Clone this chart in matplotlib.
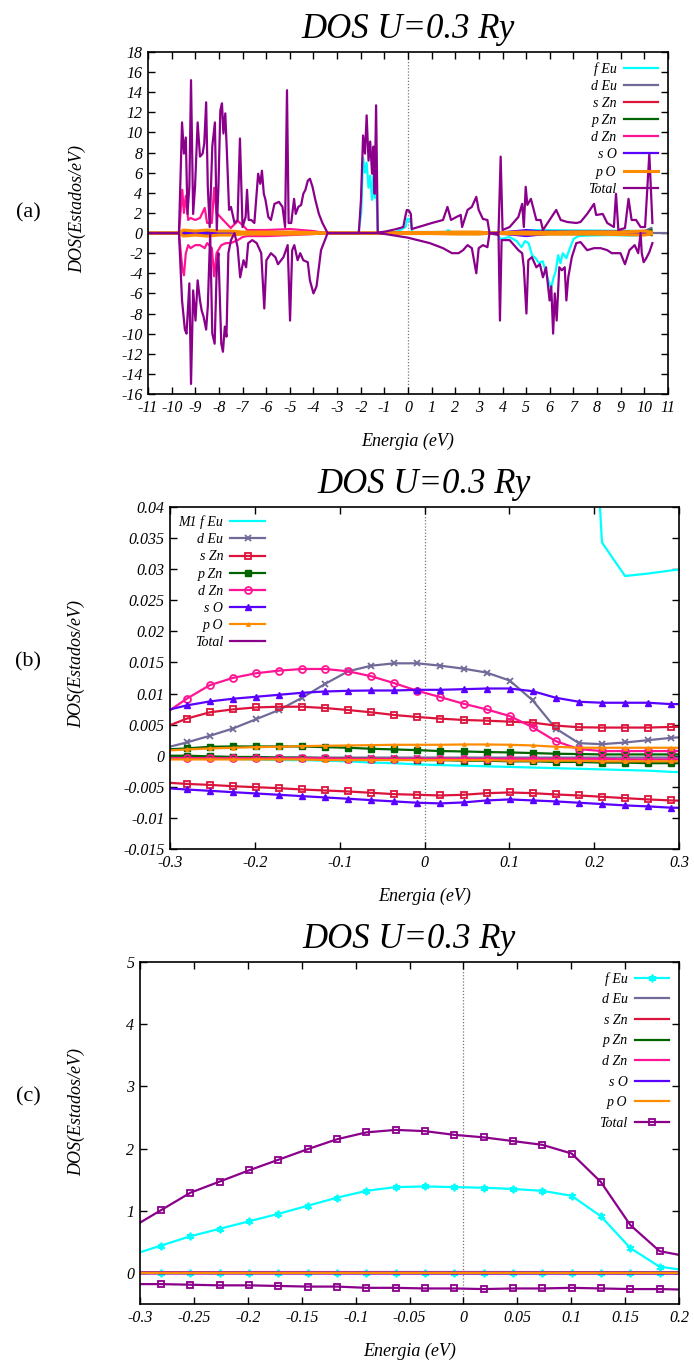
import matplotlib
matplotlib.use('Agg')
import matplotlib.pyplot as plt
from matplotlib.ticker import FuncFormatter, MultipleLocator

plt.rcParams['font.family'] = ['Liberation Serif', 'DejaVu Serif']
plt.rcParams['font.style'] = 'italic'
plt.rcParams['axes.unicode_minus'] = False

# ---------------- panel (a): full DOS, spin up / spin down ----------------
E_tot_up = [-11.0, -9.69, -9.56, -9.48, -9.40, -9.33, -9.25, -9.18, -9.09, -9.01,
            -8.90, -8.80, -8.69, -8.62, -8.54, -8.47, -8.39, -8.28, -8.17, -8.09,
            -8.02, -7.94, -7.87, -7.81, -7.73, -7.66, -7.57, -7.49, -7.34, -7.21,
            -7.11, -7.00, -6.87, -6.81, -6.74, -6.63, -6.50, -6.34, -6.25, -6.18,
            -6.10, -6.03, -5.91, -5.80, -5.65, -5.46, -5.31, -5.20, -5.12, -5.05,
            -4.94, -4.82, -4.75, -4.64, -4.52, -4.43, -4.34, -4.24, -4.15, -4.04,
            -3.92, -3.77, -3.62, -3.40, -2.08, -1.99, -1.90, -1.82, -1.75, -1.67,
            -1.60, -1.52, -1.46, -1.41, -1.35, -1.28, -0.96, -0.49, -0.20, -0.10,
            -0.05, 0.05, 0.12, 0.16, 1.01, 1.48, 1.67, 1.82, 2.05, 2.23,
            2.29, 2.52, 2.70, 2.89, 2.99, 3.17, 3.36, 3.45, 3.83, 3.92,
            4.00, 4.30, 4.67, 4.83, 4.90, 4.98, 5.05, 5.20, 5.43, 5.61,
            5.71, 5.99, 6.27, 6.46, 6.74, 7.12, 7.30, 7.58, 7.87, 7.96,
            8.24, 8.43, 8.71, 8.80, 8.90, 9.18, 9.33, 9.46, 9.65, 9.84,
            10.03, 10.21, 10.34]
tot_up_a = [0.0, 0.0, 11.0, 7.9, 9.5, 1.9, 4.6, 15.2, 1.9, 4.6,
            11.0, 7.6, 7.9, 8.9, 13.0, 4.6, 0.6, 8.6, 11.0, 0.3,
            4.6, 12.2, 12.9, 9.9, 11.9, 7.9, 2.3, 2.6, 1.0, 1.3,
            9.4, 0.6, 1.6, 4.3, 1.3, 1.3, 1.0, 5.9, 4.9, 6.2,
            3.9, 3.3, 1.6, 1.3, 2.9, 3.1, 2.6, 0.6, 14.2, 1.0,
            1.0, 3.4, 1.9, 2.6, 2.8, 3.9, 4.3, 5.2, 5.4, 4.6,
            3.3, 1.9, 1.0, 0.0, 0.0, 3.3, 9.7, 7.9, 11.7, 7.2,
            9.1, 5.9, 8.6, 3.9, 12.7, 0.05, 0.15, 0.4, 0.6, 1.8,
            2.3, 2.2, 1.9, 0.4, 1.0, 1.3, 2.6, 1.3, 1.6, 1.8,
            0.6, 2.3, 2.6, 3.6, 2.3, 1.4, 1.3, 0.0, 0.0, 7.6,
            0.3, 0.6, 1.6, 2.9, 0.6, 4.6, 2.8, 3.4, 1.3, 1.3,
            0.3, 1.3, 2.3, 1.3, 1.1, 1.0, 1.1, 1.9, 2.9, 1.8,
            1.9, 1.0, 0.6, 3.9, 0.3, 0.5, 3.4, 1.3, 1.3, 0.6,
            0.6, 7.9, 1.0]

E_tot_dn = [-11.0, -9.69, -9.56, -9.44, -9.37, -9.25, -9.18, -9.09, -8.99, -8.90,
            -8.80, -8.73, -8.65, -8.54, -8.47, -8.37, -8.28, -8.18, -8.09, -8.02,
            -7.90, -7.83, -7.75, -7.68, -7.60, -7.49, -7.34, -7.21, -7.10, -6.96,
            -6.85, -6.76, -6.59, -6.40, -6.21, -6.08, -5.99, -5.80, -5.61, -5.50,
            -5.27, -5.09, -4.99, -4.90, -4.81, -4.67, -4.56, -4.43, -4.24, -4.15,
            -4.00, -3.87, -3.68, -3.40, -1.28, -0.96, -0.02, 0.92, 1.48, 1.86,
            2.14, 2.33, 2.52, 2.70, 2.89, 2.99, 3.17, 3.36, 3.45, 3.83,
            3.89, 3.96, 4.30, 4.67, 4.83, 4.90, 5.01, 5.09, 5.24, 5.43,
            5.58, 5.71, 5.84, 5.99, 6.06, 6.14, 6.21, 6.29, 6.40, 6.51,
            6.63, 6.70, 6.78, 6.93, 7.12, 7.30, 7.58, 7.87, 8.15, 8.43,
            8.62, 8.80, 8.99, 9.18, 9.37, 9.59, 9.74, 9.84, 9.89, 9.97,
            10.08, 10.21, 10.34]
tot_dn_a = [0.0, 0.0, -6.7, -9.6, -10.0, -5.0, -15.0, -5.7, -8.7, -4.7,
            -6.7, -7.7, -8.3, -9.6, -7.3, 0.0, -10.0, -11.0, -3.4, -2.0,
            -11.0, -11.8, -9.3, -10.3, -2.0, -0.7, 0.0, -1.4, -4.4, -2.7,
            -3.4, -1.0, -0.7, -1.0, -2.0, -7.5, -2.7, -2.0, -2.4, -3.1,
            -2.4, -1.2, -8.7, -1.7, -1.2, -2.7, -2.0, -2.7, -2.9, -4.7,
            -6.0, -5.3, -1.7, 0.0, 0.0, -0.1, -0.45, -1.0, -1.5, -2.0,
            -2.0, -1.7, -1.2, -1.5, -4.0, -1.5, -1.2, -1.4, 0.0, -0.2,
            -8.7, -0.7, -0.7, -1.7, -2.0, -3.4, -8.0, -2.7, -2.4, -3.4,
            -3.1, -4.4, -3.4, -6.7, -5.3, -10.0, -6.0, -8.7, -3.4, -3.7,
            -3.4, -6.7, -4.4, -2.4, -1.0, -0.9, -1.7, -1.5, -1.5, -1.7,
            -2.0, -2.0, -2.0, -3.1, -1.7, -1.2, -2.0, 0.0, -2.0, -2.9,
            -2.5, -1.9, -1.0]

E_dzn_a = [-11.0, -9.69, -9.55, -9.48, -9.40, -9.30, -9.20, -9.00, -8.80, -8.60,
           -8.50, -8.30, -8.20, -8.10, -7.90, -7.70, -7.50, -7.20, -7.00, -6.80,
           -6.00, -5.00, -4.00, -3.50, 10.3]
dzn_up_a = [0.0, 0.0, 4.3, 2.0, 3.7, 1.3, 1.5, 1.3, 1.5, 2.5,
            1.0, 1.0, 4.5, 2.0, 1.5, 1.0, 0.5, 1.2, 0.8, 0.3,
            0.3, 0.4, 0.2, 0.0, 0.0]
dzn_dn_a = [0.0, 0.0, -3.5, -4.2, -2.0, -1.2, -1.5, -1.2, -1.2, -1.5,
            -1.0, -1.5, -4.3, -2.0, -1.2, -1.0, -1.0, -0.7, -0.4, -0.3,
            -0.3, -0.2, -0.1, 0.0, 0.0]

E_feu_up_a = [-11.0, -2.10, -1.98, -1.90, -1.82, -1.75, -1.67, -1.60, -1.52, -1.46,
              -1.40, -1.35, -1.28, -0.50, -0.10, -0.03, 0.05, 0.12, 0.17, 1.60,
              1.70, 1.80, 4.90, 5.00, 10.0, 10.3]
feu_up_a = [0.0, 0.0, 2.0, 7.5, 6.0, 7.0, 4.5, 5.7, 3.3, 6.0,
            3.5, 5.5, 0.0, 0.1, 0.6, 1.4, 1.4, 1.0, 0.1, 0.1,
            0.3, 0.1, 0.1, 0.3, 0.2, 0.3]
E_feu_dn_a = [-11.0, 3.80, 3.90, 4.30, 4.60, 4.80, 4.95, 5.10, 5.25, 5.40,
              5.55, 5.70, 5.85, 5.95, 6.05, 6.15, 6.25, 6.35, 6.45, 6.55,
              6.70, 6.85, 7.00, 7.20, 7.60, 8.50, 9.50, 10.30]
feu_dn_a = [0.0, -0.1, -0.6, -0.4, -0.8, -1.4, -0.8, -1.0, -2.2, -2.5,
            -3.0, -2.8, -4.0, -4.8, -5.5, -4.5, -3.8, -2.2, -3.0, -2.0,
            -2.5, -1.5, -0.6, -0.3, -0.25, -0.2, -0.25, -0.15]

# small partial contributions (all close to zero)
E_small = [-11.0, -9.7, -9.5, -9.0, -8.5, -8.0, -7.5, -7.0, -6.0, -5.0,
           -4.0, -3.4, -2.0, -1.3, 0.0, 1.0, 2.0, 3.0, 3.5, 4.0,
           5.0, 6.0, 7.0, 8.0, 9.0, 10.0, 10.3]
deu_up_a = [0.0, 0.0, 0.1, 0.1, 0.1, 0.1, 0.1, 0.05, 0.05, 0.05,
            0.0, 0.0, 0.0, 0.0, 0.1, 0.1, 0.1, 0.1, 0.0, 0.1,
            0.2, 0.2, 0.2, 0.2, 0.2, 0.2, 0.5]
deu_dn_a = [0.0, 0.0, -0.1, -0.1, -0.1, -0.1, -0.1, -0.05, -0.05, -0.05,
            0.0, 0.0, 0.0, 0.0, -0.05, -0.05, -0.05, -0.1, 0.0, -0.1,
            -0.2, -0.1, -0.1, -0.1, -0.1, -0.1, -0.2]
szn_up_a = [0.0, 0.0, 0.05, 0.05, 0.05, 0.05, 0.05, 0.02, 0.02, 0.02,
            0.0, 0.0, 0.0, 0.0, 0.02, 0.02, 0.02, 0.02, 0.0, 0.02,
            0.05, 0.05, 0.05, 0.05, 0.05, 0.05, 0.05]
szn_dn_a = [0.0, 0.0, -0.05, -0.05, -0.05, -0.05, -0.05, -0.02, -0.02, -0.02,
            0.0, 0.0, 0.0, 0.0, -0.02, -0.02, -0.02, -0.02, 0.0, -0.02,
            -0.05, -0.05, -0.05, -0.05, -0.05, -0.05, -0.05]
pzn_up_a = [0.0, 0.0, 0.1, 0.1, 0.1, 0.1, 0.1, 0.05, 0.05, 0.05,
            0.0, 0.0, 0.0, 0.0, 0.02, 0.02, 0.05, 0.05, 0.0, 0.05,
            0.1, 0.1, 0.1, 0.1, 0.1, 0.1, 0.3]
pzn_dn_a = [0.0, 0.0, -0.1, -0.1, -0.1, -0.1, -0.1, -0.05, -0.05, -0.05,
            0.0, 0.0, 0.0, 0.0, -0.02, -0.02, -0.05, -0.05, 0.0, -0.05,
            -0.1, -0.1, -0.1, -0.1, -0.1, -0.1, -0.2]
so_up_a = [0.0, 0.0, 0.05, 0.05, 0.05, 0.05, 0.05, 0.02, 0.02, 0.02,
           0.0, 0.0, 0.0, 0.0, 0.02, 0.02, 0.05, 0.05, 0.0, 0.05,
           0.3, 0.05, 0.05, 0.05, 0.05, 0.05, 0.05]
so_dn_a = [0.0, 0.0, -0.05, -0.05, -0.05, -0.05, -0.05, -0.02, -0.02, -0.02,
           0.0, 0.0, 0.0, 0.0, -0.02, -0.02, -0.05, -0.05, 0.0, -0.05,
           -0.3, -0.05, -0.05, -0.05, -0.05, -0.05, -0.05]
po_up_a = [0.0, 0.0, 0.3, 0.2, 0.3, 0.2, 0.2, 0.1, 0.1, 0.1,
           0.05, 0.0, 0.0, 0.0, 0.05, 0.05, 0.1, 0.1, 0.0, 0.05,
           0.1, 0.05, 0.1, 0.1, 0.1, 0.2, 0.1]
po_dn_a = [0.0, 0.0, -0.3, -0.2, -0.3, -0.2, -0.2, -0.1, -0.1, -0.1,
           -0.05, 0.0, 0.0, 0.0, -0.05, -0.05, -0.1, -0.1, 0.0, -0.05,
           -0.1, -0.1, -0.1, -0.1, -0.15, -0.2, -0.1]
E_zero = [-11.0, 11.0]
zero_line = [0.0, 0.0]

# ---------------- panels (b) and (c): zoom around E_F ----------------
E_fine = [-0.3076, -0.2804, -0.2532, -0.2260, -0.1988, -0.1716, -0.1444, -0.1172,
          -0.0900, -0.0628, -0.0356, -0.0084, 0.0188, 0.0460, 0.0732, 0.1004,
          0.1276, 0.1548, 0.1820, 0.2092, 0.2364, 0.2636, 0.2908, 0.3180]
feu_up = [0.29, 0.44, 0.59, 0.71, 0.83, 0.95, 1.08, 1.21,
          1.32, 1.38, 1.39, 1.38, 1.37, 1.35, 1.32, 1.24,
          0.91, 0.40, 0.10, 0.0343, 0.0289, 0.0293, 0.0298, 0.0302]
feu_dn = [-0.0003, -0.0004, -0.0005, -0.0005, -0.0006, -0.0007, -0.0007, -0.0008,
          -0.0009, -0.0011, -0.0012, -0.0014, -0.0015, -0.0016, -0.0017, -0.0018,
          -0.0019, -0.0020, -0.0021, -0.0022, -0.0023, -0.0024, -0.0026, -0.0027]
deu_up = [0.0012, 0.00213, 0.0032, 0.00437, 0.00586, 0.00735, 0.00932, 0.01155,
          0.01358, 0.01448, 0.01486, 0.01486, 0.01448, 0.0140, 0.01337, 0.01209,
          0.00889, 0.00437, 0.00202, 0.00186, 0.00213, 0.0025, 0.00288, 0.0031]
deu_dn = [-0.0002, -0.0002, -0.0002, -0.0002, -0.0003, -0.0003, -0.0003, -0.0003,
          -0.0003, -0.0003, -0.0003, -0.0003, -0.0003, -0.0003, -0.0003, -0.0003,
          -0.0003, -0.0003, -0.0003, -0.0003, -0.0003, -0.0003, -0.0003, -0.0003]
szn_up = [0.0045, 0.00596, 0.00698, 0.00745, 0.00777, 0.00788, 0.00788, 0.00767,
          0.00735, 0.00698, 0.00655, 0.00623, 0.00596, 0.00575, 0.00564, 0.00548,
          0.00532, 0.00485, 0.00458, 0.00453, 0.00453, 0.00453, 0.00463, 0.0047]
szn_dn = [-0.0043, -0.00453, -0.00469, -0.0049, -0.00506, -0.00522, -0.00543, -0.00559,
          -0.00575, -0.00596, -0.00618, -0.00628, -0.00639, -0.00628, -0.00602, -0.00591,
          -0.00602, -0.00623, -0.00639, -0.0066, -0.00682, -0.00703, -0.00719, -0.0073]
pzn_up = [0.0010, 0.00117, 0.00144, 0.00149, 0.00149, 0.00149, 0.00149, 0.00138,
          0.00128, 0.00112, 0.00101, 0.0009, 0.00075, 0.00069, 0.00059, 0.00053,
          0.00043, 0.00032, 0.00027, 0.00021, 0.00021, 0.00021, 0.00021, 0.0002]
pzn_dn = [0.0, 0.0, -0.0001, -0.0002, -0.0002, -0.0003, -0.0003, -0.0004,
          -0.0005, -0.0005, -0.0006, -0.0007, -0.0007, -0.0008, -0.0008, -0.0009,
          -0.0009, -0.0010, -0.0010, -0.0011, -0.0011, -0.0012, -0.0012, -0.0012]
dzn_up = [0.0066, 0.00916, 0.01134, 0.01251, 0.01326, 0.01368, 0.01395, 0.01395,
          0.01358, 0.01278, 0.01166, 0.01044, 0.00942, 0.00836, 0.00745, 0.00639,
          0.00458, 0.00234, 0.00106, 0.00075, 0.00075, 0.00075, 0.00075, 0.00075]
dzn_dn = [-0.0004, -0.0004, -0.0004, -0.0004, -0.0004, -0.0004, -0.0004, -0.0004,
          -0.0005, -0.0005, -0.0005, -0.0005, -0.0005, -0.0005, -0.0005, -0.0005,
          -0.0005, -0.0005, -0.0005, -0.0005, -0.0006, -0.0006, -0.0006, -0.0006]
so_up = [0.0072, 0.00809, 0.00873, 0.00916, 0.00948, 0.0098, 0.01012, 0.01033,
         0.01044, 0.01049, 0.01049, 0.0106, 0.0106, 0.0107, 0.01081, 0.01081,
         0.01038, 0.00932, 0.00868, 0.00852, 0.00852, 0.00852, 0.0083, 0.0083]
so_dn = [-0.0052, -0.00543, -0.00564, -0.00586, -0.00607, -0.00628, -0.0065, -0.00671,
         -0.00692, -0.00714, -0.00735, -0.00756, -0.00767, -0.00751, -0.00719, -0.00703,
         -0.00719, -0.00735, -0.00756, -0.00777, -0.00799, -0.00815, -0.00836, -0.0084]
po_up = [0.0008, 0.00101, 0.00117, 0.00128, 0.00138, 0.00144, 0.00154, 0.0016,
         0.00165, 0.0017, 0.00176, 0.00176, 0.00176, 0.00181, 0.00181, 0.00176,
         0.00165, 0.00144, 0.00128, 0.00128, 0.00128, 0.00128, 0.00128, 0.00128]
po_dn = [-0.0006, -0.0006, -0.0006, -0.0006, -0.0006, -0.0006, -0.0006, -0.0007,
         -0.0007, -0.0007, -0.0007, -0.0007, -0.0007, -0.0007, -0.0007, -0.0008,
         -0.0008, -0.0008, -0.0008, -0.0009, -0.0009, -0.0009, -0.0009, -0.0009]
tot_up = [0.73, 1.01, 1.29, 1.47, 1.65, 1.82, 1.99, 2.15,
          2.26, 2.30, 2.28, 2.22, 2.18, 2.12, 2.06, 1.92,
          1.46, 0.77, 0.35, 0.26, 0.22, 0.20, 0.19, 0.18]
tot_dn = [-0.18, -0.18, -0.19, -0.20, -0.20, -0.21, -0.22, -0.22,
          -0.24, -0.24, -0.25, -0.25, -0.26, -0.25, -0.25, -0.24,
          -0.25, -0.26, -0.26, -0.27, -0.27, -0.27, -0.27, -0.27]

labels = ['f Eu', 'd Eu', 's Zn', 'p Zn', 'd Zn', 's O', 'p O', 'Total']
colors = ['#00ffff', '#6f6a98', '#dc143c', '#006400', '#ff1493', '#5a00ff', '#ff8c00', '#8b008b']

W, H = 694, 1362
fig = plt.figure(figsize=(W / 100, H / 100), dpi=100)


def rect(left, top, right, bottom):
    return [left / W, 1 - bottom / H, (right - left) / W, (bottom - top) / H]


def style_axes(ax):
    ax.tick_params(direction='in', top=True, right=True, length=5, width=1,
                   labelsize=11.5, pad=4)
    for s in ax.spines.values():
        s.set_linewidth(1.2)
    ax.axvline(0, color='#777777', ls=(0, (1, 1.5)), lw=0.9, zorder=0)
    ax.set_title('DOS U=0.3 Ry', fontsize=25, pad=10)
    ax.set_xlabel('Energia (eV)', fontsize=13, labelpad=12)
    ax.set_ylabel('DOS(Estados/eV)', fontsize=13)


fmt = FuncFormatter(lambda v, p: '{:g}'.format(round(v, 4) + 0.0))

# ---------- (a) ----------
ax = fig.add_axes(rect(148, 52, 668, 394))
lw = 1.6
ax.plot(E_zero, zero_line, color=colors[1], lw=lw)
ax.plot(E_feu_up_a, feu_up_a, color=colors[0], lw=lw, label=labels[0])
ax.plot(E_feu_dn_a, feu_dn_a, color=colors[0], lw=lw)
ax.plot(E_small, deu_up_a, color=colors[1], lw=lw, label=labels[1])
ax.plot(E_small, deu_dn_a, color=colors[1], lw=lw)
ax.plot(E_small, szn_up_a, color=colors[2], lw=lw, label=labels[2])
ax.plot(E_small, szn_dn_a, color=colors[2], lw=lw)
ax.plot(E_small, pzn_up_a, color=colors[3], lw=lw, label=labels[3])
ax.plot(E_small, pzn_dn_a, color=colors[3], lw=lw)
ax.plot(E_dzn_a, dzn_up_a, color=colors[4], lw=lw, label=labels[4])
ax.plot(E_dzn_a, dzn_dn_a, color=colors[4], lw=lw)
ax.plot(E_small, so_up_a, color=colors[5], lw=lw, label=labels[5])
ax.plot(E_small, so_dn_a, color=colors[5], lw=lw)
ax.plot(E_small, po_up_a, color=colors[6], lw=lw + 0.6, label=labels[6])
ax.plot(E_small, po_dn_a, color=colors[6], lw=lw + 0.6)
ax.plot(E_tot_up, tot_up_a, color=colors[7], lw=lw, label=labels[7])
ax.plot(E_tot_dn, tot_dn_a, color=colors[7], lw=lw)
ax.set_xlim(-11, 11)
ax.set_ylim(-16, 18)
ax.xaxis.set_major_locator(MultipleLocator(1))
ax.yaxis.set_major_locator(MultipleLocator(2))
ax.xaxis.set_major_formatter(fmt)
ax.yaxis.set_major_formatter(fmt)
style_axes(ax)
ax.yaxis.set_label_coords(-0.119, 0.54)
ax.legend(loc='upper right', frameon=False, markerfirst=False, fontsize=10,
          handlelength=2.5, labelspacing=0.3, handletextpad=0.5,
          borderaxespad=0.4, borderpad=0.3)
fig.text(28 / W, 1 - 213 / H, '(a)', fontsize=16, style='normal', ha='center', va='center')

# ---------- (b) ----------
ax = fig.add_axes(rect(170, 507, 679, 849))
ms = 4.5
ax.plot(E_fine, feu_up, color=colors[0], lw=lw, label='M1 f Eu')
ax.plot(E_fine, feu_dn, color=colors[0], lw=lw)
ax.plot(E_fine, deu_up, color=colors[1], lw=lw, marker='x', ms=ms, mew=1.3, label=labels[1])
ax.plot(E_fine, deu_dn, color=colors[1], lw=lw, marker='x', ms=ms, mew=1.3)
ax.plot(E_fine, szn_up, color=colors[2], lw=lw, marker='s', ms=ms + 0.5, mfc='none', mew=1.3, label=labels[2])
ax.plot(E_fine, szn_dn, color=colors[2], lw=lw, marker='s', ms=ms + 0.5, mfc='none', mew=1.3)
ax.plot(E_fine, pzn_up, color=colors[3], lw=lw, marker='s', ms=ms, label=labels[3])
ax.plot(E_fine, pzn_dn, color=colors[3], lw=lw, marker='s', ms=ms)
ax.plot(E_fine, dzn_up, color=colors[4], lw=lw, marker='o', ms=ms + 0.5, mfc='none', mew=1.3, label=labels[4])
ax.plot(E_fine, dzn_dn, color=colors[4], lw=lw, marker='o', ms=ms + 0.5, mfc='none', mew=1.3)
ax.plot(E_fine, so_up, color=colors[5], lw=lw, marker='^', ms=ms + 0.5, label=labels[5])
ax.plot(E_fine, so_dn, color=colors[5], lw=lw, marker='^', ms=ms + 0.5)
ax.plot(E_fine, po_up, color=colors[6], lw=lw, marker='^', ms=2.5, label=labels[6])
ax.plot(E_fine, po_dn, color=colors[6], lw=lw, marker='^', ms=2.5)
ax.plot(E_fine, tot_up, color=colors[7], lw=lw, label=labels[7])
ax.plot(E_fine, tot_dn, color=colors[7], lw=lw)
ax.set_xlim(-0.3, 0.3)
ax.set_ylim(-0.015, 0.04)
ax.xaxis.set_major_locator(MultipleLocator(0.1))
ax.yaxis.set_major_locator(MultipleLocator(0.005))
ax.xaxis.set_major_formatter(fmt)
ax.yaxis.set_major_formatter(fmt)
style_axes(ax)
ax.yaxis.set_label_coords(-0.167, 0.54)
ax.legend(loc='upper left', frameon=False, markerfirst=False, fontsize=10,
          handlelength=2.5, labelspacing=0.3, handletextpad=0.5,
          borderaxespad=0.3, borderpad=0.3)
fig.text(28 / W, 1 - 662 / H, '(b)', fontsize=16, style='normal', ha='center', va='center')

# ---------- (c) ----------
ax = fig.add_axes(rect(140, 962, 679, 1304))
ax.plot(E_fine, feu_up, color=colors[0], lw=lw, marker=(6, 2, 0), ms=ms + 1, mew=1.3, label=labels[0])
ax.plot(E_fine, feu_dn, color=colors[0], lw=lw, marker=(6, 2, 0), ms=ms + 1, mew=1.3)
ax.plot(E_fine, deu_up, color=colors[1], lw=lw, label=labels[1])
ax.plot(E_fine, deu_dn, color=colors[1], lw=lw)
ax.plot(E_fine, szn_up, color=colors[2], lw=lw, label=labels[2])
ax.plot(E_fine, szn_dn, color=colors[2], lw=lw)
ax.plot(E_fine, pzn_up, color=colors[3], lw=lw, label=labels[3])
ax.plot(E_fine, pzn_dn, color=colors[3], lw=lw)
ax.plot(E_fine, dzn_up, color=colors[4], lw=lw, label=labels[4])
ax.plot(E_fine, dzn_dn, color=colors[4], lw=lw)
ax.plot(E_fine, so_up, color=colors[5], lw=lw, label=labels[5])
ax.plot(E_fine, so_dn, color=colors[5], lw=lw)
ax.plot(E_fine, po_up, color=colors[6], lw=lw, label=labels[6])
ax.plot(E_fine, po_dn, color=colors[6], lw=lw)
ax.plot(E_fine, tot_up, color=colors[7], lw=lw, marker='s', ms=ms + 0.5, mfc='none', mew=1.3, label=labels[7])
ax.plot(E_fine, tot_dn, color=colors[7], lw=lw, marker='s', ms=ms + 0.5, mfc='none', mew=1.3)
ax.set_xlim(-0.3, 0.2)
ax.set_ylim(-0.5, 5)
ax.xaxis.set_major_locator(MultipleLocator(0.05))
ax.yaxis.set_major_locator(MultipleLocator(1))
ax.xaxis.set_major_formatter(fmt)
ax.yaxis.set_major_formatter(fmt)
style_axes(ax)
ax.yaxis.set_label_coords(-0.102, 0.56)
ax.legend(loc='upper right', frameon=False, markerfirst=False, fontsize=10,
          handlelength=2.5, labelspacing=0.55, handletextpad=0.5,
          borderaxespad=0.4, borderpad=0.3)
fig.text(28 / W, 1 - 1097 / H, '(c)', fontsize=16, style='normal', ha='center', va='center')

plt.savefig('out.png', dpi=100)
